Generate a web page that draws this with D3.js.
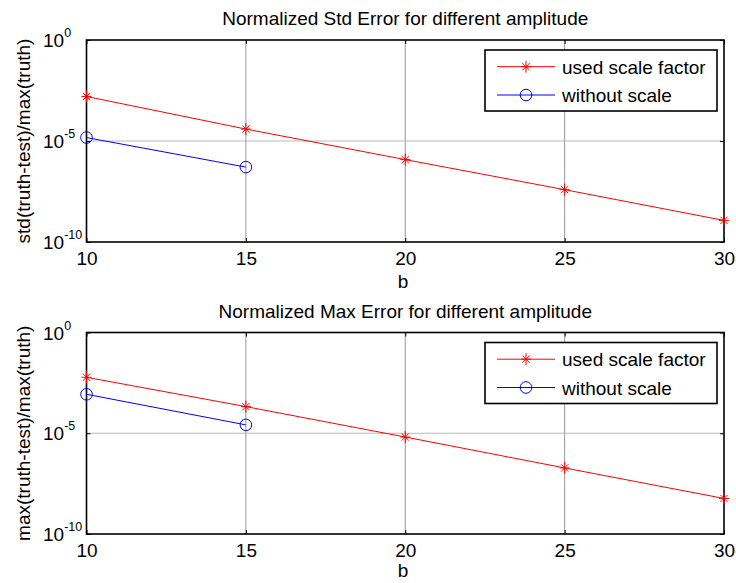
<!DOCTYPE html>
<html>
<head>
<meta charset="utf-8">
<script src="https://cdn.jsdelivr.net/npm/d3@7"></script>
<style>
html,body{margin:0;padding:0;background:#fff;}
svg{display:block;}
text{font-family:"Liberation Sans",Arial,Helvetica,sans-serif;fill:#000;}
</style>
</head>
<body>
<svg id="chart" width="736" height="583"></svg>
<script>
// ---- data ----
const bValues = [10, 15, 20, 25, 30];
const bWithout = [10, 15];
const stdScaled = [1.6e-3, 3.9e-5, 1.2e-6, 3.9e-8, 1.17e-9];
const stdWithout = [1.48e-5, 5.1e-7];
const maxScaled = [6.0e-3, 2.1e-4, 6.5e-6, 1.9e-7, 5.8e-9];
const maxWithout = [8.6e-4, 2.6e-5];
const xTicks = [10, 15, 20, 25, 30];
const yTicks = [1e-10, 1e-5, 1];
const yTickExp = ["-10", "-5", "0"];
const seriesNames = ["used scale factor", "without scale"];
const titles = ["Normalized Std Error for different amplitude", "Normalized Max Error for different amplitude"];
const yLabels = ["std(truth-test)/max(truth)", "max(truth-test)/max(truth)"];
const xLabel = "b";

const svg = d3.select("#chart");
const FS = 19;
const left = 86.5, right = 724;
const panels = [
  {top: 40, bottom: 242, scaled: stdScaled, without: stdWithout, title: titles[0], ylabel: yLabels[0], xlab: 288},
  {top: 332.5, bottom: 534, scaled: maxScaled, without: maxWithout, title: titles[1], ylabel: yLabels[1], xlab: 577}
];
const RED = "#ff0000", BLUE = "#0000ff";

function asterisk(g, cx, cy, r) {
  const p = g.append("g").attr("transform", `translate(${cx},${cy})`)
    .attr("stroke", RED).attr("stroke-width", 1).attr("fill", "none");
  p.append("line").attr("x1", -r).attr("x2", r).attr("y1", 0).attr("y2", 0);
  p.append("line").attr("x1", 0).attr("x2", 0).attr("y1", -r - 1).attr("y2", r + 1);
  const d = r * 0.72;
  p.append("line").attr("x1", -d).attr("x2", d).attr("y1", -d).attr("y2", d);
  p.append("line").attr("x1", -d).attr("x2", d).attr("y1", d).attr("y2", -d);
}
function circle(g, cx, cy, r) {
  g.append("circle").attr("cx", cx).attr("cy", cy).attr("r", r)
    .attr("fill", "none").attr("stroke", BLUE).attr("stroke-width", 1);
}

panels.forEach(pn => {
  const x = d3.scaleLinear().domain([10, 30]).range([left, right]);
  const y = d3.scaleLog().domain([1e-10, 1]).range([pn.bottom, pn.top]);
  const g = svg.append("g");

  // grid
  const grid = g.append("g");
  xTicks.slice(1, -1).forEach(t => {
    grid.append("line").attr("x1", x(t)).attr("x2", x(t)).attr("y1", pn.top).attr("y2", pn.bottom)
      .attr("stroke", "#6a6a6a").attr("stroke-width", 0.7);
  });
  yTicks.slice(1, -1).forEach(t => {
    grid.append("line").attr("x1", left).attr("x2", right).attr("y1", y(t)).attr("y2", y(t))
      .attr("stroke", "#a8a8a8").attr("stroke-width", 0.8);
  });

  // axes with inward ticks using d3 axes
  const tl = 4;
  const axB = g.append("g").attr("transform", `translate(0,${pn.bottom})`)
    .call(d3.axisBottom(x).tickValues(xTicks).tickSizeInner(-tl).tickSizeOuter(0).tickFormat(d3.format("d")));
  axB.selectAll("text").attr("font-size", FS).attr("dy", null).attr("y", 23)
    .style("font-family", "'Liberation Sans',Arial,sans-serif");
  const axT = g.append("g").attr("transform", `translate(0,${pn.top})`)
    .call(d3.axisTop(x).tickValues(xTicks).tickSizeInner(-tl).tickSizeOuter(0).tickFormat(""));
  const axL = g.append("g").attr("transform", `translate(${left},0)`)
    .call(d3.axisLeft(y).tickValues(yTicks).tickSizeInner(-tl).tickSizeOuter(0).tickFormat(""));
  const axR = g.append("g").attr("transform", `translate(${right},0)`)
    .call(d3.axisRight(y).tickValues(yTicks).tickSizeInner(-tl).tickSizeOuter(0).tickFormat(""));
  [axB, axT, axL, axR].forEach(a => {
    a.select(".domain").remove();
    a.selectAll(".tick line").attr("stroke", "#000").attr("stroke-width", 1);
  });

  // y tick labels 10^n
  yTicks.forEach((t, i) => {
    const tx = g.append("text").attr("x", 43).attr("y", y(t) + 7).attr("font-size", FS);
    tx.append("tspan").text("10");
    tx.append("tspan").attr("dy", -10).attr("font-size", 12.5).text(yTickExp[i]);
  });

  // frame
  g.append("rect").attr("x", left).attr("y", pn.top).attr("width", right - left).attr("height", pn.bottom - pn.top)
    .attr("fill", "none").attr("stroke", "#000").attr("stroke-width", 1.6);

  // series
  const line = d3.line().x(d => x(d[0])).y(d => y(d[1]));
  const sData = bValues.map((b, i) => [b, pn.scaled[i]]);
  const wData = bWithout.map((b, i) => [b, pn.without[i]]);
  g.append("path").datum(sData).attr("d", line).attr("fill", "none").attr("stroke", RED).attr("stroke-width", 1);
  g.append("path").datum(wData).attr("d", line).attr("fill", "none").attr("stroke", BLUE).attr("stroke-width", 1);
  sData.forEach(d => asterisk(g, x(d[0]), y(d[1]), 5));
  wData.forEach(d => circle(g, x(d[0]), y(d[1]), 5.8));

  // title
  g.append("text").attr("x", (left + right) / 2).attr("y", pn.top - 15).attr("text-anchor", "middle")
    .attr("font-size", FS).text(pn.title);
  // x label
  g.append("text").attr("x", 403).attr("y", pn.xlab).attr("text-anchor", "middle")
    .attr("font-size", FS).text(xLabel);
  // y label
  g.append("text").attr("transform", `translate(30,${(pn.top + pn.bottom) / 2}) rotate(-90)`)
    .attr("text-anchor", "middle").attr("font-size", FS).text(pn.ylabel);

  // legend
  const lx0 = 485, lx1 = 717, ly0 = pn.top + 10, ly1 = pn.top + 71;
  const lg = g.append("g");
  lg.append("rect").attr("x", lx0).attr("y", ly0).attr("width", lx1 - lx0).attr("height", ly1 - ly0)
    .attr("fill", "#fff").attr("stroke", "#000").attr("stroke-width", 1.6);
  const rows = [pn.top + 26.7, pn.top + 55];
  [RED, BLUE].forEach((c, i) => {
    lg.append("line").attr("x1", 497).attr("x2", 555).attr("y1", rows[i]).attr("y2", rows[i])
      .attr("stroke", c).attr("stroke-width", 1);
    if (i === 0) asterisk(lg, 526, rows[i], 5); else circle(lg, 526, rows[i], 5.8);
    lg.append("text").attr("x", 562).attr("y", rows[i] + 7).attr("font-size", FS).text(seriesNames[i]);
  });
});
</script>
</body>
</html>
